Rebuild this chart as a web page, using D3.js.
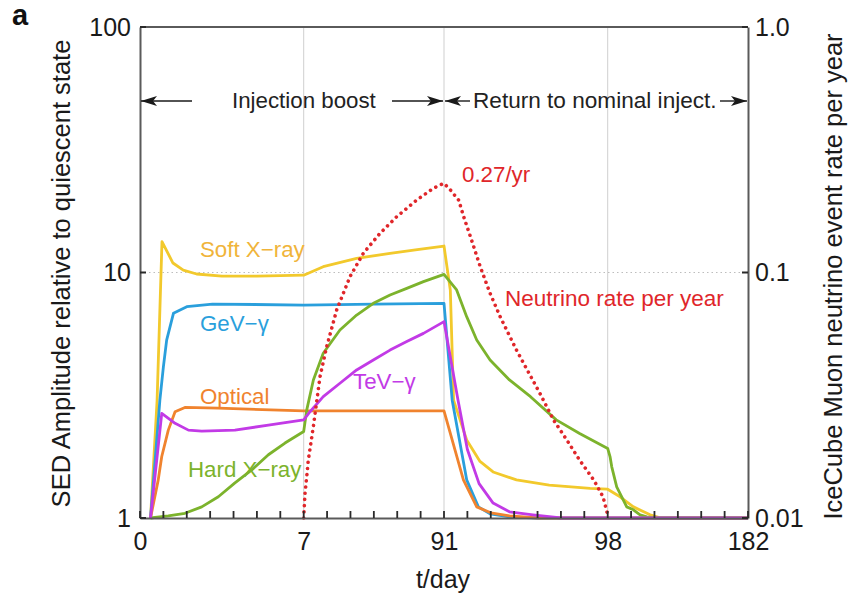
<!DOCTYPE html>
<html>
<head>
<meta charset="utf-8">
<script src="https://cdn.jsdelivr.net/npm/d3@7"></script>
<style>
  html, body { margin: 0; padding: 0; background: #fff; }
  svg { display: block; font-family: "Liberation Sans", Arial, Helvetica, sans-serif; }
</style>
</head>
<body>
<svg id="chart" width="848" height="596"></svg>
<script>
// ---- data ---------------------------------------------------------------
// time axis is broken into four linear pieces with these breakpoints (days)
const timeBreaks = [0, 7, 91, 98, 182];
const labelledDays = [0, 7, 91, 98, 182];
const tickDays = [0, 1, 2, 3, 4, 5, 6, 7, 21, 35, 49, 63, 77, 91,
                  92, 93, 94, 95, 96, 97, 98, 112, 126, 140, 154, 168, 182];
const leftTicks = [1, 10, 100];
const leftTickLabels = ["1", "10", "100"];
const rightTicks = [0.01, 0.1, 1];
const rightTickLabels = ["0.01", "0.1", "1.0"];

const softXDays = [0.45, 0.73, 0.94, 1.41, 1.85, 2.42, 3.5, 5, 7, 18.7, 38.7, 58.7, 75, 91,
                   91.27, 91.41, 91.97, 92.54, 93.1, 94.1, 95.5, 97.25, 98, 105.4, 113.4, 123.4, 130, 182];
const softXAmp  = [1, 3.0, 13.35, 10.93, 10.23, 9.86, 9.67, 9.67, 9.75, 10.56, 11.42, 11.97, 12.4, 12.82,
                   8.48, 3.02, 2.08, 1.70, 1.54, 1.43, 1.36, 1.32, 1.31, 1.22, 1.11, 1.03, 1.0, 1.0];

const gevDays = [0.45, 0.85, 1.0, 1.14, 1.43, 2.0, 3.1, 7, 49, 91, 91.35, 91.97, 92.47, 92.97, 93.8, 95, 182];
const gevAmp  = [1, 3.02, 4.13, 5.3, 6.82, 7.26, 7.44, 7.37, 7.43, 7.49, 3.02, 1.43, 1.11, 1.04, 1.01, 1, 1];

const opticalDays = [0.45, 0.78, 0.93, 1.21, 1.5, 1.92, 3.35, 7, 91, 91.83, 92.4, 93, 93.8, 95, 182];
const opticalAmp  = [1, 1.43, 1.78, 2.28, 2.71, 2.82, 2.8, 2.73, 2.73, 1.43, 1.11, 1.05, 1.02, 1, 1];

const hardXDays = [0.45, 1.21, 1.92, 2.64, 3.35, 4.06, 4.78, 5.49, 6.2, 7, 8.8, 12.8, 18.7, 28.7, 38.7,
                   48.7, 58.7, 68.7, 78.7, 91, 91.54, 91.97, 92.4, 92.97, 93.8, 94.7, 95.8, 96.8, 98,
                   99.4, 100.4, 103.4, 109.4, 113.4, 117.4, 121.4, 126, 182];
const hardXAmp  = [1, 1.02, 1.045, 1.11, 1.22, 1.39, 1.57, 1.81, 2.02, 2.25, 2.75, 3.65, 4.69, 5.83, 6.71,
                   7.49, 8.1, 8.62, 9.18, 9.83, 8.49, 6.61, 5.31, 4.40, 3.65, 3.12, 2.51, 2.21, 1.92,
                   1.78, 1.62, 1.34, 1.11, 1.08, 1.03, 1.01, 1, 1];

const tevDays = [0.45, 0.93, 1.5, 2.07, 2.64, 4.06, 5.49, 7, 10.8, 18.7, 28.7, 38.7, 48.7, 58.7, 68.7,
                 78.7, 91, 91.6, 92.0, 92.5, 93.1, 93.8, 94.8, 96, 182];
const tevAmp  = [1, 2.67, 2.43, 2.28, 2.26, 2.28, 2.39, 2.51, 2.71, 3.12, 3.54, 4.01, 4.40, 4.83, 5.23,
                 5.65, 6.31, 3.02, 1.9, 1.38, 1.15, 1.06, 1.03, 1.0, 1.0];

const nuDays = [7, 7.78, 8.8, 9.75, 12.75, 16.76, 20.77, 26.76, 34.72, 42.69, 52.69, 62.69, 74.68, 84.6, 91,
                91.27, 91.63, 91.84, 92.13, 92.55, 92.97, 93.4, 94.1, 95.1, 95.68, 96.25, 96.8, 97.4, 97.8, 98];
const nuRate = [0.01, 0.0126, 0.0147, 0.0172, 0.0235, 0.0376, 0.0499, 0.0704, 0.0962, 0.1197, 0.1444,
                0.1688, 0.1974, 0.2203, 0.2309, 0.217, 0.197, 0.169, 0.140, 0.1056, 0.0823, 0.0661,
                0.0483, 0.0322, 0.0251, 0.0208, 0.0172, 0.0143, 0.0122, 0.0103];

const bands = [
  { name: "Soft X\u2212ray", days: softXDays, amp: softXAmp, color: "#f2c92c", text: "#f0b43a" },
  { name: "GeV\u2212\u03b3", days: gevDays, amp: gevAmp, color: "#2a9fdc", text: "#2a9fdc" },
  { name: "Optical", days: opticalDays, amp: opticalAmp, color: "#f0832e", text: "#f0832e" },
  { name: "Hard X\u2212ray", days: hardXDays, amp: hardXAmp, color: "#7cb32c", text: "#7cb32c" },
  { name: "TeV\u2212\u03b3", days: tevDays, amp: tevAmp, color: "#c23ae6", text: "#c23ae6" }
];

// ---- layout -------------------------------------------------------------
const svg = d3.select("#chart");
const L = 140, R = 748, T = 27, B = 518;
const step = (R - L) / 26;

const x = d3.scaleLinear()
  .domain(timeBreaks)
  .range([L, L + 7 * step, L + 13 * step, L + 20 * step, R]);
const y = d3.scaleLog().domain([1, 100]).range([B, T]);
const yR = d3.scaleLog().domain([0.01, 1]).range([B, T]);

const frameColor = "#5a5a5a";
const tickColor = "#2a2a2a";
const font = "\"Liberation Sans\", Arial, sans-serif";

// grid
svg.append("g").selectAll("line").data([7, 91, 98]).join("line")
  .attr("x1", d => x(d)).attr("x2", d => x(d))
  .attr("y1", T).attr("y2", B)
  .attr("stroke", "#cfcfcf").attr("stroke-width", 1);
svg.append("line")
  .attr("x1", L).attr("x2", R).attr("y1", y(10)).attr("y2", y(10))
  .attr("stroke", "#bdbdbd").attr("stroke-width", 1).attr("stroke-dasharray", "1.5,3");

// series
svg.append("defs").append("clipPath").attr("id", "plotclip")
  .append("rect").attr("x", L).attr("y", T).attr("width", R - L).attr("height", B - T + 2);

const lineGen = d3.line()
  .x(d => x(d[0])).y(d => y(d[1]));
const plot = svg.append("g").attr("clip-path", "url(#plotclip)");
bands.forEach(s => {
  plot.append("path")
    .datum(s.days.map((d, i) => [d, s.amp[i]]))
    .attr("fill", "none")
    .attr("stroke", s.color)
    .attr("stroke-width", 2.8)
    .attr("stroke-linejoin", "round")
    .attr("d", lineGen);
});

const nuLine = d3.line().x(d => x(d[0])).y(d => yR(d[1]));
plot.append("path")
  .datum(nuDays.map((d, i) => [d, nuRate[i]]))
  .attr("fill", "none")
  .attr("stroke", "#e0262a")
  .attr("stroke-width", 3.6)
  .attr("stroke-linecap", "round")
  .attr("stroke-dasharray", "0.01,6.2")
  .attr("d", nuLine);

// axes: labels and frame from d3-axis
const bottom = d3.axisBottom(x)
  .tickValues(tickDays)
  .tickSize(0).tickPadding(14)
  .tickFormat(d => labelledDays.includes(d) ? String(d) : "");
const gB = svg.append("g").attr("transform", `translate(0,${B})`).call(bottom);

const left = d3.axisLeft(y)
  .tickValues(leftTicks)
  .tickSize(0).tickPadding(9)
  .tickFormat((d, i) => leftTickLabels[i]);
const gL = svg.append("g").attr("transform", `translate(${L},0)`).call(left);

const right = d3.axisRight(yR)
  .tickValues(rightTicks)
  .tickSize(0).tickPadding(7)
  .tickFormat((d, i) => rightTickLabels[i]);
const gR = svg.append("g").attr("transform", `translate(${R},0)`).call(right);

[gB, gL, gR].forEach(g => {
  g.select(".domain").attr("stroke", frameColor).attr("stroke-width", 2);
  g.selectAll(".tick text").attr("fill", "#1a1a1a")
    .style("font-family", font).style("font-size", "25px");
});
svg.append("line").attr("x1", L).attr("x2", R).attr("y1", T).attr("y2", T)
  .attr("stroke", frameColor).attr("stroke-width", 2);

// axis titles
svg.append("text")
  .attr("transform", `translate(70,${(T + B) / 2 + 1}) rotate(-90)`)
  .attr("text-anchor", "middle")
  .style("font-size", "25.5px").attr("fill", "#1a1a1a")
  .text("SED Amplitude relative to quiescent state");
svg.append("text")
  .attr("transform", `translate(842,${(T + B) / 2 + 4}) rotate(-90)`)
  .attr("text-anchor", "middle")
  .style("font-size", "25.5px").attr("fill", "#1a1a1a")
  .text("IceCube Muon neutrino event rate per year");
svg.append("text")
  .attr("x", (L + R) / 2 - 1).attr("y", 588)
  .attr("text-anchor", "middle")
  .style("font-size", "25px").attr("fill", "#1a1a1a")
  .text("t/day");
svg.append("text")
  .attr("x", 12).attr("y", 25)
  .style("font-size", "29px").style("font-weight", "bold").attr("fill", "#111")
  .text("a");

// phase annotations with arrows
svg.select("defs").append("marker")
  .attr("id", "head")
  .attr("viewBox", "0 0 16 10")
  .attr("refX", 16).attr("refY", 5)
  .attr("markerWidth", 16).attr("markerHeight", 10)
  .attr("markerUnits", "userSpaceOnUse")
  .attr("orient", "auto")
  .append("path").attr("d", "M0,0 L16,5 L0,10 L4,5 Z").attr("fill", "#1a1a1a");

const arrowY = 101;
const arrows = [
  [192, x(0) + 1],
  [392, x(91) - 1],
  [470, x(91) + 1],
  [720, x(182) - 1]
];
svg.append("g").selectAll("line").data(arrows).join("line")
  .attr("x1", d => d[0]).attr("x2", d => d[1])
  .attr("y1", arrowY).attr("y2", arrowY)
  .attr("stroke", "#1a1a1a").attr("stroke-width", 1.4)
  .attr("marker-end", "url(#head)");

svg.append("text").attr("x", 232).attr("y", 108)
  .style("font-size", "22.3px").attr("fill", "#222").text("Injection boost");
svg.append("text").attr("x", 473).attr("y", 108)
  .style("font-size", "22.6px").attr("fill", "#222").text("Return to nominal inject.");

// series labels
const labelPos = [
  [200, 257], [200, 331], [200, 404], [188, 477], [353, 389]
];
bands.forEach((s, i) => {
  svg.append("text")
    .attr("x", labelPos[i][0]).attr("y", labelPos[i][1])
    .style("font-size", "22.3px").attr("fill", s.text)
    .text(s.name);
});
svg.append("text").attr("x", 462).attr("y", 182)
  .style("font-size", "22.3px").attr("fill", "#e0262a").text("0.27/yr");
svg.append("text").attr("x", 505).attr("y", 306)
  .style("font-size", "22.5px").attr("fill", "#e0262a").text("Neutrino rate per year");

// inward tick marks, drawn last so nothing covers them
const tickPath = d3.path();
tickDays.forEach(d => { tickPath.moveTo(x(d), B); tickPath.lineTo(x(d), B - 7); });
leftTicks.forEach(v => { tickPath.moveTo(L, y(v)); tickPath.lineTo(L + 6, y(v)); });
rightTicks.forEach(v => { tickPath.moveTo(R - 6, yR(v)); tickPath.lineTo(R, yR(v)); });
svg.append("path")
  .attr("d", tickPath.toString())
  .attr("fill", "none")
  .attr("stroke", tickColor)
  .attr("stroke-width", 1.8);
</script>
</body>
</html>
